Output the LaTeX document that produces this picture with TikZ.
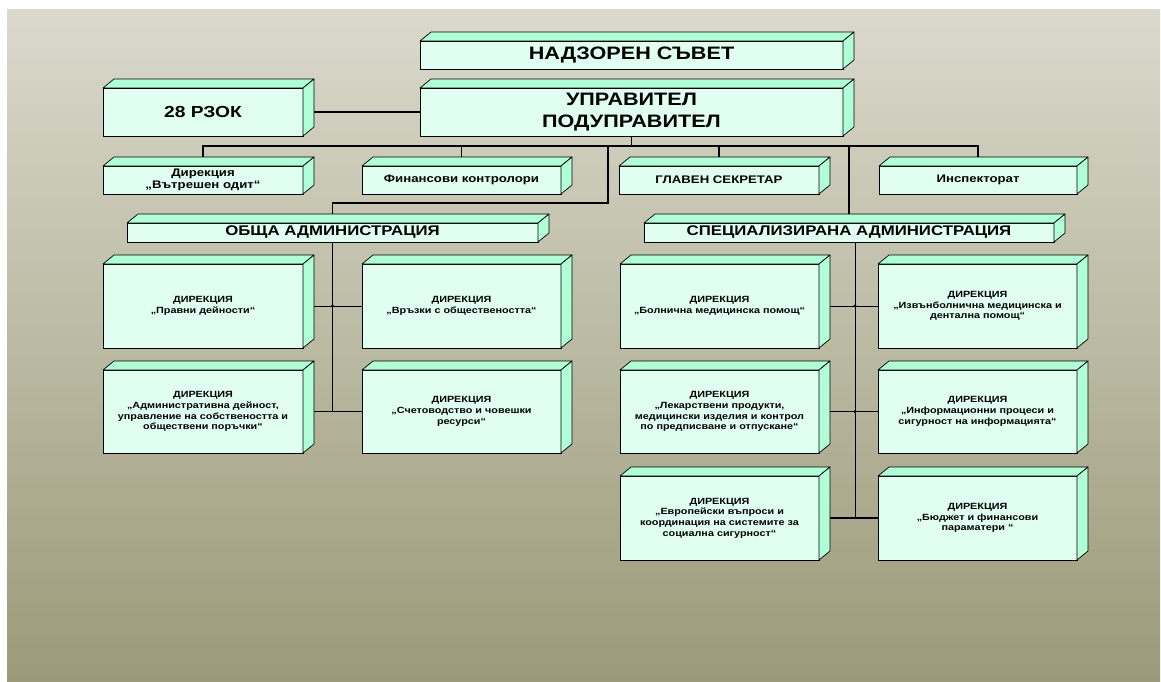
\documentclass[tikz,border=0pt]{standalone}
\usepackage{fontspec}
\setmainfont{Liberation Sans}[FakeStretch=1.2]
\usetikzlibrary{calc}
\definecolor{front}{RGB}{224,255,240}
\definecolor{sidec}{RGB}{176,255,214}
\definecolor{bgtop}{RGB}{218,217,204}
\definecolor{bgbot}{RGB}{155,154,121}
\newcommand\cubefaces[1]{%
  \filldraw[face] (#1.north west) -- ++(11,9) -- ($(#1.north east)+(11,9)$) -- (#1.north east) -- cycle;
  \filldraw[face] (#1.north east) -- ++(11,9) -- ($(#1.south east)+(11,9)$) -- (#1.south east) -- cycle;}
\begin{document}
\begin{tikzpicture}[x=1pt,y=1pt,
  box/.style={draw=black,line width=0.7pt,fill=front,inner sep=0pt,outer sep=0pt,align=center},
  face/.style={draw=black,line width=0.7pt,fill=sidec,line join=round},
  fA/.style={font=\bfseries\fontsize{18}{22.5}\selectfont},
  fB/.style={font=\bfseries\fontsize{16}{19}\selectfont},
  fC/.style={font=\bfseries\fontsize{14}{17}\selectfont},
  fD/.style={font=\bfseries\fontsize{11}{12}\selectfont},
  fE/.style={font=\bfseries\fontsize{9}{10.7}\selectfont},
  top/.style={box,minimum width=423pt,minimum height=28pt},
  lvl/.style={box,fD,minimum width=200pt,minimum height=28pt},
  adm/.style={box,fC,minimum width=411pt,minimum height=19pt},
  dir/.style={box,fE,minimum width=200pt,minimum height=84pt},
  conn/.style={line width=1.6pt},
  sconn/.style={line width=1.0pt}]
\useasboundingbox (0,0) rectangle (1161,-682);
\fill[white] (0,0) rectangle (1161,-682);
\shade[top color=bgtop,bottom color=bgbot] (7,-10) rectangle (1160,-681);

\node[top,fA] (nadzor) at (631.5,-55) {НАДЗОРЕН СЪВЕТ};
\node[top,fA,minimum height=48pt] (upr) at (631.5,-112) {УПРАВИТЕЛ\\ПОДУПРАВИТЕЛ};
\node[lvl,fB,minimum height=48pt] (rzok) at (203,-112) {28 РЗОК};
\node[lvl] (audit) at (203,-180) {Дирекция\\„Вътрешен одит“};
\node[lvl,minimum width=199pt] (fin) at (461.5,-180) {Финансови контролори};
\node[lvl] (glav) at (719,-180) {ГЛАВЕН СЕКРЕТАР};
\node[lvl,minimum width=198pt] (insp) at (978,-180) {Инспекторат};
\node[adm] (obsha) at (332.5,-232.5) {ОБЩА АДМИНИСТРАЦИЯ};
\node[adm,minimum width=410pt] (spec) at (849,-232.5) {СПЕЦИАЛИЗИРАНА АДМИНИСТРАЦИЯ};

\node[dir] (c11) at (203,-306) {ДИРЕКЦИЯ\\„Правни дейности“};
\node[dir,minimum width=199pt] (c12) at (461.5,-306) {ДИРЕКЦИЯ\\„Връзки с обществеността“};
\node[dir,minimum height=83pt] (c21) at (203,-411.5) {ДИРЕКЦИЯ\\„Административна дейност,\\управление на собствеността и\\обществени поръчки“};
\node[dir,minimum width=199pt,minimum height=83pt] (c22) at (461.5,-411.5) {ДИРЕКЦИЯ\\„Счетоводство и човешки\\ресурси“};

\node[dir,minimum width=199pt] (s11) at (719.5,-306) {ДИРЕКЦИЯ\\„Болнична медицинска помощ“};
\node[dir,minimum width=199pt] (s12) at (977.5,-306) {ДИРЕКЦИЯ\\„Извънболнична медицинска и\\дентална помощ“};
\node[dir,minimum width=199pt,minimum height=83pt] (s21) at (719.5,-411.5) {ДИРЕКЦИЯ\\„Лекарствени продукти,\\медицински изделия и контрол\\по предписване и отпускане“};
\node[dir,minimum width=199pt,minimum height=83pt] (s22) at (977.5,-411.5) {ДИРЕКЦИЯ\\„Информационни процеси и\\сигурност на информацията“};
\node[dir,minimum width=199pt] (s31) at (719.5,-518) {ДИРЕКЦИЯ\\„Европейски въпроси и\\координация на системите за\\социална сигурност“};
\node[dir,minimum width=199pt] (s32) at (977.5,-518) {ДИРЕКЦИЯ\\„Бюджет и финансови\\параматери “};

% connectors
\coordinate (busL) at (203,-146);
\coordinate (elbowL) at (608,-203);
\draw[conn] (rzok.east) -- (upr.west);
\draw[conn] (upr.south) -- (upr.south |- busL);
\draw[conn] (audit.north) -- (audit.north |- busL) -- (insp.north |- busL) -- (insp.north);
\draw[conn] (fin.north) -- (fin.north |- busL);
\draw[conn] (glav.north) -- (glav.north |- busL);
\draw[conn] (elbowL |- busL) -- (elbowL) -- (obsha.north |- elbowL) -- (obsha.north);
\draw[conn] (spec.north |- busL) -- (spec.north);

\draw[sconn] (obsha.south) -- (obsha.south |- c21.east);
\draw[sconn] (c11.east) -- (c12.west);
\draw[sconn] (c21.east) -- (c22.west);
\fill (obsha.south |- c11.east) circle (1.6);

\coordinate (specdrop) at ($(spec.south)+(6,0)$);
\draw[sconn] (specdrop) -- (specdrop |- s31.east);
\draw[sconn] (s11.east) -- (s12.west);
\draw[sconn] (s21.east) -- (s22.west);
\draw[conn] (s31.east) -- (s32.west);
\fill (specdrop |- s11.east) circle (1.6);
\fill (specdrop |- s21.east) circle (1.6);

\foreach \n in {nadzor,upr,rzok,audit,fin,glav,insp,obsha,spec,c11,c12,c21,c22,s11,s12,s21,s22,s31,s32}{\cubefaces{\n}}
\end{tikzpicture}
\end{document}
